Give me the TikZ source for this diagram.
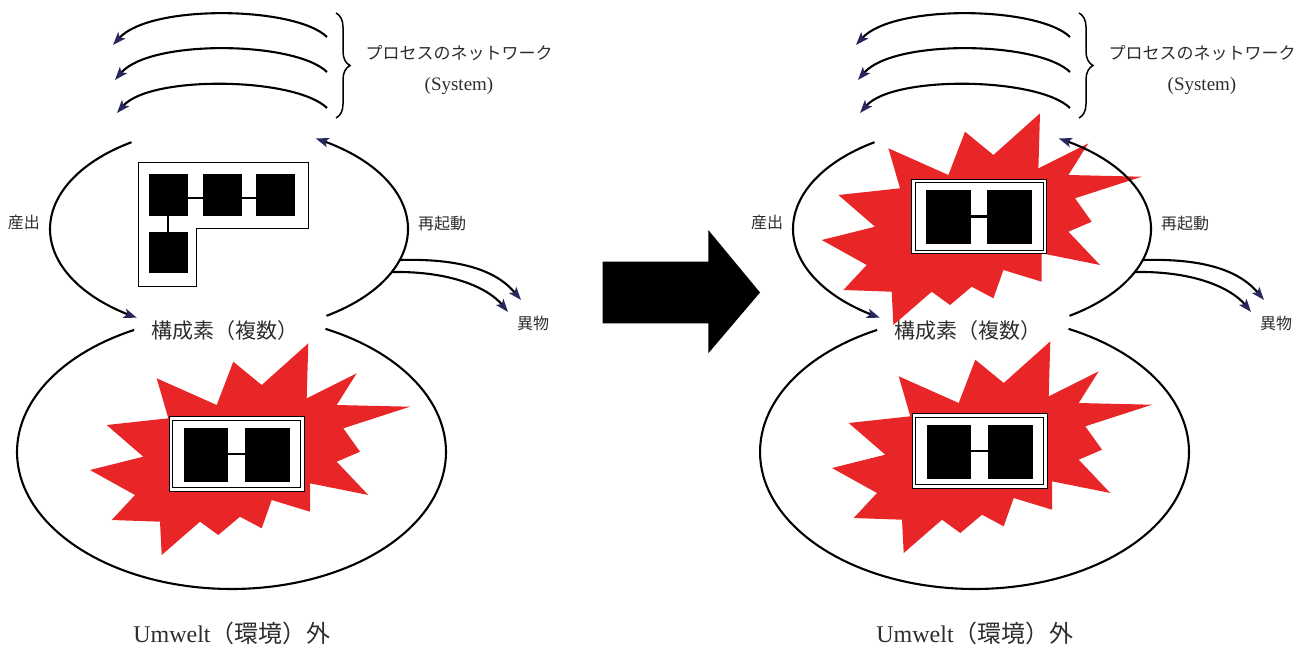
\documentclass[tikz,border=0pt]{standalone}
\usepackage{fontspec}
\setmainfont{Liberation Serif}
\newfontfamily\jpfont{Noto Sans CJK JP}
\usetikzlibrary{arrows.meta,decorations.pathreplacing}
\definecolor{burstred}{RGB}{232,38,40}
\definecolor{tipblue}{RGB}{40,40,95}
\definecolor{txtgray}{RGB}{45,45,45}
\def\burstpts{(156.7,378.3) -- (216.7,405) -- (233.3,361.7) -- (261.7,385) -- (308.3,343.3) -- (306.7,398.3) -- (356.7,373.3) -- (336.7,405) -- (410,406.7) -- (343.3,428.3) -- (360,451.7) -- (336.7,461.7) -- (368.3,495) -- (310,483.3) -- (310,511.7) -- (271.7,500) -- (261.7,528.3) -- (240,516.7) -- (218.3,535) -- (200,521.7) -- (161.7,555) -- (160,521.7) -- (111.7,520) -- (135,495) -- (90,470) -- (143.3,456.7) -- (106.7,425) -- (168.3,418.3) -- cycle}
\tikzset{
  conn/.style={line width=2.1pt, -{Stealth[length=13pt,width=9.5pt,inset=3pt,color=tipblue]}},
  plainline/.style={line width=2.1pt},
  lbl/.style={text=txtgray, inner sep=0pt},
  burst/.style={fill=burstred},
  boxline/.style={line width=1pt},
  pics/hboxpic/.style={code={
    \draw[boxline, fill=white] (0,0) rectangle (134.7,74.3);
    \draw[boxline] (3.4,3.3) rectangle (131.4,71);
    \fill (14.7,11) rectangle (59,65);
    \fill (75.7,11) rectangle (120.7,65);
    \draw[line width=2.5pt] (59,37.3) -- (75.7,37.3);
  }},
  pics/panel/.style={code={
    % process network arcs
    \coordinate (-a1s) at (327,37);  \coordinate (-a1e) at (113,45);
    \coordinate (-a2s) at (327,72);  \coordinate (-a2e) at (115,80);
    \coordinate (-a3s) at (327,108); \coordinate (-a3e) at (117,113);
    \draw[conn] (-a1s) .. controls (295,6) and (150,4) .. (-a1e);
    \draw[conn] (-a2s) .. controls (295,41) and (150,39) .. (-a2e);
    \draw[conn] (-a3s) .. controls (295,77) and (150,75) .. (-a3e);
    \coordinate (-bt) at (336,13); \coordinate (-bb) at (336,118);
    \draw[line width=1.5pt, decorate, decoration={brace, amplitude=14pt}] (-bt) -- (-bb);
    \node[lbl, font=\jpfont\fontsize{17}{20}\selectfont] (-net) at (459,53) {プロセスのネットワーク};
    \node[lbl, font=\fontsize{19}{22}\selectfont] (-sys) at (459,86) {(System)};
    % upper ellipse (two arcs)
    \draw[conn] plot[domain=237:121, samples=60, variable=\t] ({229+179*cos(\t)},{229+103.5*sin(\t)});
    \draw[conn] plot[domain=57:-61, samples=60, variable=\t] ({229+179*cos(\t)},{229+103.5*sin(\t)});
    % lower ellipse
    \draw[plainline] plot[domain=-64:243, samples=140, variable=\t] ({231.5+214.5*cos(\t)},{452+137*sin(\t)});
    % arrows to foreign matter
    \coordinate (-f1s) at (400,260); \coordinate (-f1e) at (521,300);
    \coordinate (-f2s) at (392,272); \coordinate (-f2e) at (508,312);
    \draw[conn] (-f1s) .. controls (470,258) and (500,275) .. (-f1e);
    \draw[conn] (-f2s) .. controls (455,271) and (490,290) .. (-f2e);
    % labels
    \node[lbl, font=\jpfont\fontsize{16}{18}\selectfont] (-out) at (24,222) {産出};
    \node[lbl, font=\jpfont\fontsize{16}{18}\selectfont] (-re) at (442,223) {再起動};
    \node[lbl, font=\jpfont\fontsize{16}{18}\selectfont] (-foreign) at (533,323) {異物};
    \node[lbl, font=\jpfont\fontsize{21}{24}\selectfont] (-comp) at (225,331) {構成素（複数）};
    \node[lbl, font=\fontsize{24}{28}\selectfont] (-env) at (232,633) {Umwelt{\jpfont（環境）外}};
  }}
}
\begin{document}
\begin{tikzpicture}[x=1pt,y=-1pt]
  \useasboundingbox (0,0) rectangle (1308,648);
  % red bursts
  \fill[burst] \burstpts;
  \begin{scope}[shift={(742,-2)}]
    \fill[burst] \burstpts;
  \end{scope}
  \begin{scope}[shift={(731.7,-230)}]
    \fill[burst] \burstpts;
  \end{scope}
  % boxes
  \pic at (169.3,416.7) {hboxpic};
  \pic at (912.3,413.7) {hboxpic};
  \pic at (911.7,179.3) {hboxpic};
  % L-shaped network box (left upper)
  \draw[boxline, fill=white] (138,162) -- (308,162) -- (308,228) -- (196,228) -- (196,286) -- (138,286) -- cycle;
  \fill (148.5,174) rectangle (187.5,216);
  \fill (203,174) rectangle (242,216);
  \fill (256,174) rectangle (295,216);
  \fill (148.5,232) rectangle (187.5,273);
  \draw[line width=1.2pt] (187.5,198) -- (203,198);
  \draw[line width=1.2pt] (242,198) -- (256,198);
  \draw[line width=1.2pt] (168,216) -- (168,232);
  % big arrow
  \fill (602.7,261.7) -- (708.3,261.7) -- (708.3,230) -- (760,292.5) -- (708.3,353.3) -- (708.3,323.3) -- (602.7,323.3) -- cycle;
  % panels
  \pic (L) at (0,0) {panel};
  \pic (R) at (743,0) {panel};
\end{tikzpicture}
\end{document}
